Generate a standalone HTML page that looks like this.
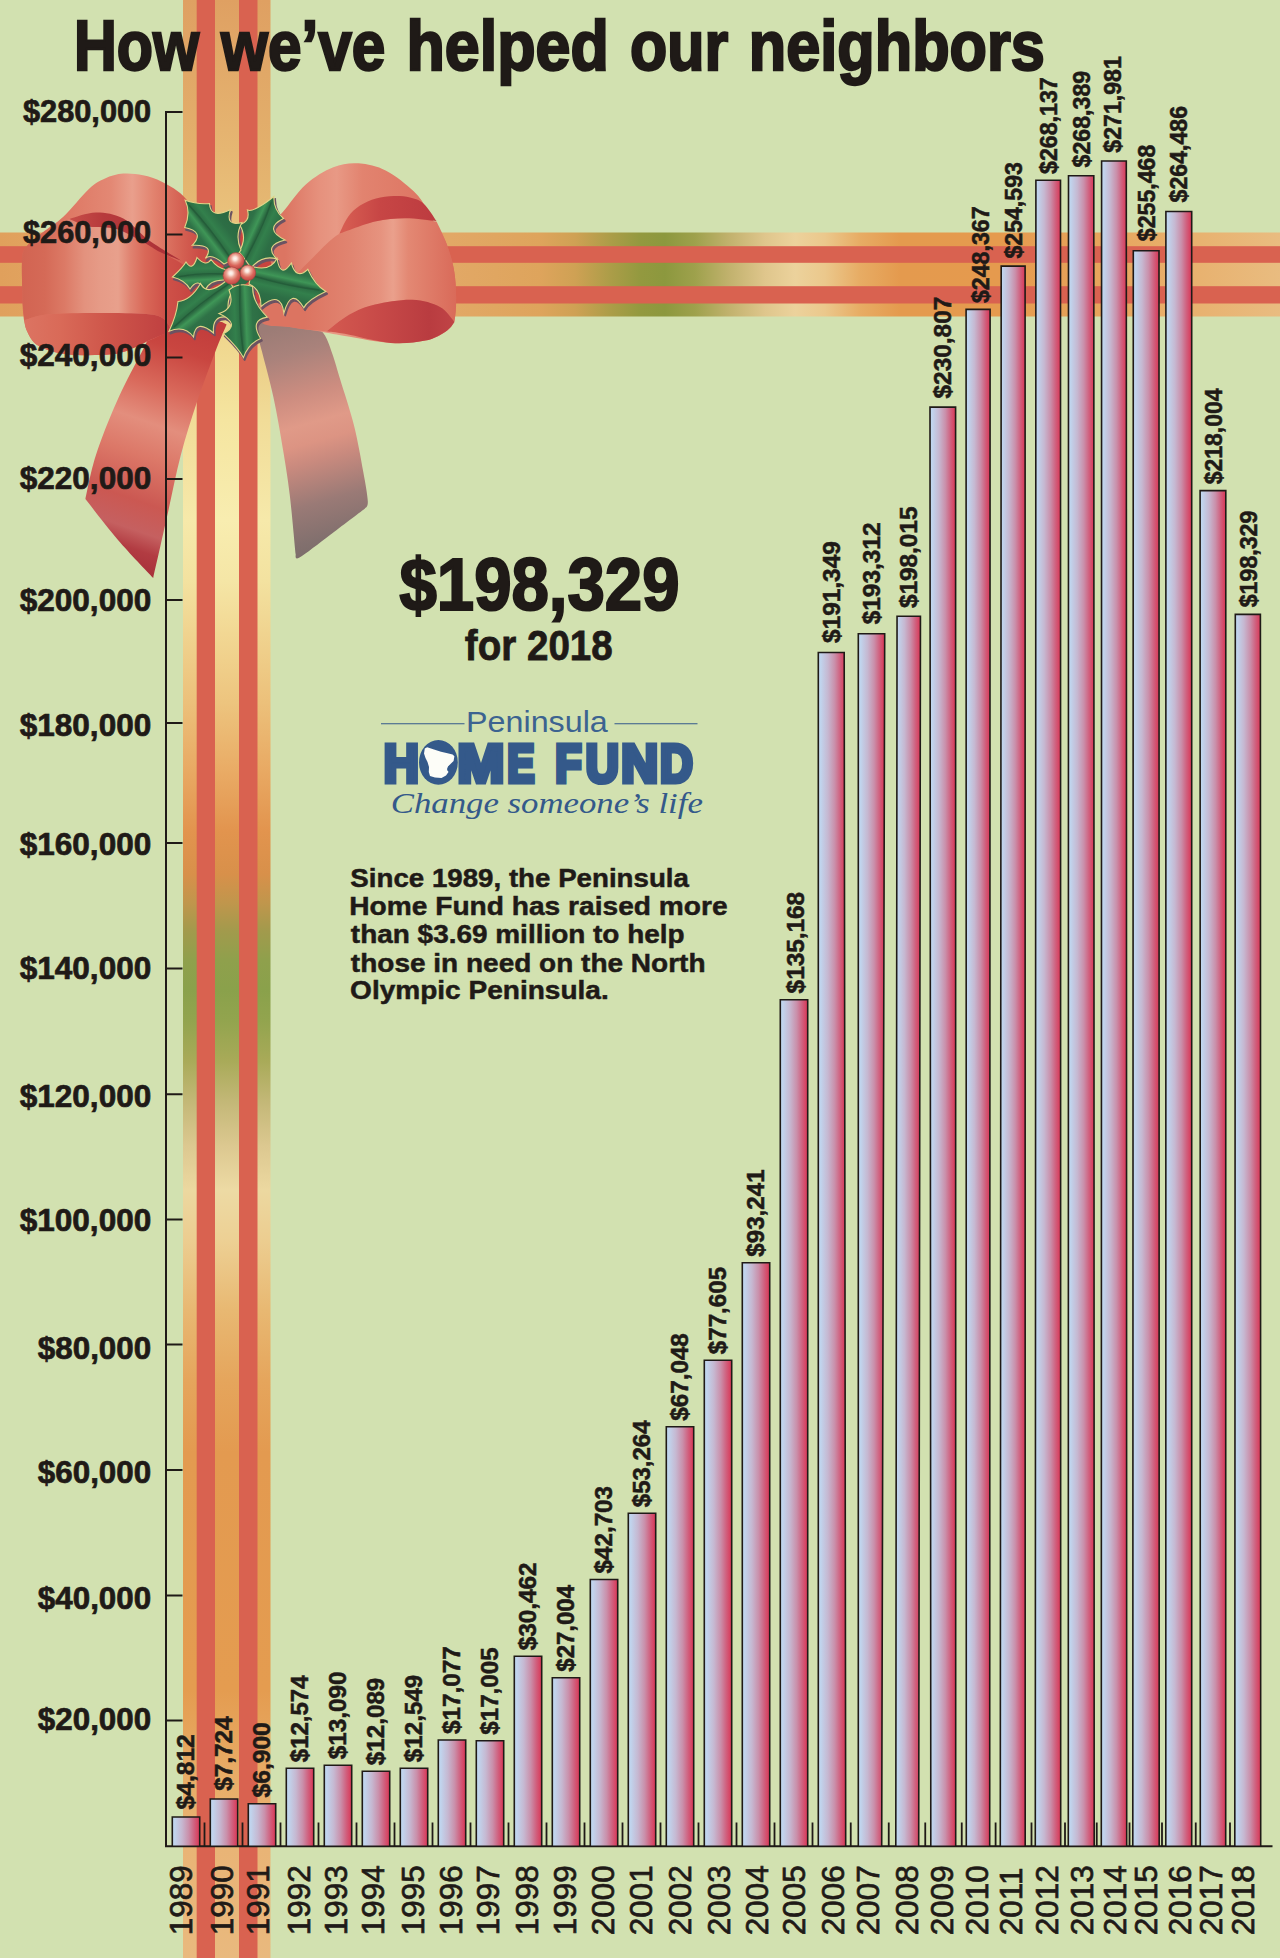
<!DOCTYPE html>
<html lang="en"><head><meta charset="utf-8"><title>How we’ve helped our neighbors</title>
<style>html,body{margin:0;padding:0;background:#fff}svg{display:block}text{font-family:"Liberation Sans",Arial,Helvetica,sans-serif}</style>
</head><body>
<svg width="1280" height="1960" viewBox="0 0 1280 1960">
<defs>
<linearGradient id="bar" x1="0" x2="1" y1="0" y2="0"><stop offset="0" stop-color="#bfd9f2"/><stop offset="0.1" stop-color="#c1d3ec"/><stop offset="0.35" stop-color="#c6b8d1"/><stop offset="0.6" stop-color="#ca8faa"/><stop offset="0.8" stop-color="#d0607e"/><stop offset="0.95" stop-color="#d8405f"/><stop offset="1" stop-color="#d63a58"/></linearGradient>
<linearGradient id="vg" gradientUnits="userSpaceOnUse" x1="0" y1="0" x2="0" y2="1958"><stop offset="0.0000" stop-color="#dfa062"/><stop offset="0.0766" stop-color="#e3b06c"/><stop offset="0.1685" stop-color="#e9c880"/><stop offset="0.2145" stop-color="#f1dc98"/><stop offset="0.2656" stop-color="#f6e9aa"/><stop offset="0.2962" stop-color="#f3e2a0"/><stop offset="0.3223" stop-color="#f0d490"/><stop offset="0.3590" stop-color="#ecc07a"/><stop offset="0.3953" stop-color="#e8a862"/><stop offset="0.4244" stop-color="#e2944e"/><stop offset="0.4464" stop-color="#d8904a"/><stop offset="0.4612" stop-color="#c0964c"/><stop offset="0.4755" stop-color="#a29a4c"/><stop offset="0.4903" stop-color="#8fa04c"/><stop offset="0.5056" stop-color="#8aa14b"/><stop offset="0.5209" stop-color="#92a44e"/><stop offset="0.5414" stop-color="#a8aa58"/><stop offset="0.5633" stop-color="#c4b878"/><stop offset="0.5853" stop-color="#dcc890"/><stop offset="0.6078" stop-color="#ecd8a0"/><stop offset="0.6333" stop-color="#eccd90"/><stop offset="0.6691" stop-color="#e8b872"/><stop offset="0.7053" stop-color="#e5a55c"/><stop offset="0.7421" stop-color="#e39a50"/><stop offset="0.8631" stop-color="#e49c50"/><stop offset="0.9091" stop-color="#e8ad68"/><stop offset="0.9448" stop-color="#e9b476"/><stop offset="1.0000" stop-color="#e9b97e"/></linearGradient>
<linearGradient id="vg2" gradientUnits="userSpaceOnUse" x1="0" y1="0" x2="0" y2="1958"><stop offset="0.0000" stop-color="#dfa062"/><stop offset="0.0766" stop-color="#e6b672"/><stop offset="0.1685" stop-color="#efd58c"/><stop offset="0.2145" stop-color="#f5e5a0"/><stop offset="0.2656" stop-color="#f8edb0"/><stop offset="0.2962" stop-color="#f5e6a6"/><stop offset="0.3223" stop-color="#f2d894"/><stop offset="0.3590" stop-color="#edc47e"/><stop offset="0.3953" stop-color="#e9aa64"/><stop offset="0.4244" stop-color="#e2944e"/><stop offset="0.4464" stop-color="#d8904a"/><stop offset="0.4612" stop-color="#c0964c"/><stop offset="0.4755" stop-color="#a29a4c"/><stop offset="0.4903" stop-color="#8fa04c"/><stop offset="0.5056" stop-color="#8aa14b"/><stop offset="0.5209" stop-color="#92a44e"/><stop offset="0.5414" stop-color="#a8aa58"/><stop offset="0.5633" stop-color="#c4b878"/><stop offset="0.5853" stop-color="#dcc890"/><stop offset="0.6078" stop-color="#eddaa4"/><stop offset="0.6333" stop-color="#edd094"/><stop offset="0.6691" stop-color="#e8b872"/><stop offset="0.7053" stop-color="#e5a55c"/><stop offset="0.7421" stop-color="#e39a50"/><stop offset="0.8631" stop-color="#e49c50"/><stop offset="0.9091" stop-color="#e8ad68"/><stop offset="0.9448" stop-color="#e9b476"/><stop offset="1.0000" stop-color="#e9b97e"/></linearGradient>
<linearGradient id="hg" gradientUnits="userSpaceOnUse" x1="0" y1="0" x2="1280" y2="0"><stop offset="0.0000" stop-color="#e0a05c"/><stop offset="0.0781" stop-color="#e3a864"/><stop offset="0.3516" stop-color="#e2a866"/><stop offset="0.4219" stop-color="#dea45c"/><stop offset="0.4492" stop-color="#cfa154"/><stop offset="0.4766" stop-color="#ac9d48"/><stop offset="0.5000" stop-color="#93993f"/><stop offset="0.5195" stop-color="#8c983e"/><stop offset="0.5430" stop-color="#9ea14c"/><stop offset="0.5703" stop-color="#c2b26e"/><stop offset="0.5977" stop-color="#dfc68c"/><stop offset="0.6211" stop-color="#ecd29c"/><stop offset="0.6445" stop-color="#ebc88c"/><stop offset="0.6719" stop-color="#e7ac64"/><stop offset="0.7031" stop-color="#e49a4e"/><stop offset="0.7812" stop-color="#e59a4e"/><stop offset="0.8594" stop-color="#e7a55c"/><stop offset="0.9375" stop-color="#e8b270"/><stop offset="1.0000" stop-color="#e9bc80"/></linearGradient>
<linearGradient id="ll" gradientUnits="userSpaceOnUse" x1="22" y1="0" x2="200" y2="0"><stop offset="0" stop-color="#d26452"/><stop offset="0.13" stop-color="#d56a57"/><stop offset="0.24" stop-color="#dc7a66"/><stop offset="0.35" stop-color="#e3927e"/><stop offset="0.44" stop-color="#e69b87"/><stop offset="0.54" stop-color="#e8a08c"/><stop offset="0.61" stop-color="#e08270"/><stop offset="0.69" stop-color="#d96858"/><stop offset="0.8" stop-color="#cf5249"/><stop offset="1" stop-color="#c4423f"/></linearGradient>
<linearGradient id="llb" gradientUnits="userSpaceOnUse" x1="22" y1="0" x2="200" y2="0"><stop offset="0" stop-color="#d96a58"/><stop offset="0.25" stop-color="#de7864"/><stop offset="0.5" stop-color="#e38874"/><stop offset="0.62" stop-color="#e99f8c"/><stop offset="0.74" stop-color="#e2826e"/><stop offset="0.9" stop-color="#d46052"/><stop offset="1" stop-color="#cb4c45"/></linearGradient>
<linearGradient id="llc" gradientUnits="userSpaceOnUse" x1="65" y1="0" x2="160" y2="0"><stop offset="0" stop-color="#c9504a"/><stop offset="0.4" stop-color="#b73a3c"/><stop offset="1" stop-color="#ad3238"/></linearGradient>
<linearGradient id="llu" gradientUnits="userSpaceOnUse" x1="24" y1="0" x2="170" y2="0"><stop offset="0" stop-color="#dc7462"/><stop offset="0.25" stop-color="#d96a58"/><stop offset="0.55" stop-color="#cf574b"/><stop offset="1" stop-color="#bf3f40"/></linearGradient>
<linearGradient id="lt" gradientUnits="userSpaceOnUse" x1="215" y1="330" x2="130" y2="575"><stop offset="0" stop-color="#c23d3c"/><stop offset="0.12" stop-color="#c94640"/><stop offset="0.28" stop-color="#d9695b"/><stop offset="0.42" stop-color="#e38e7d"/><stop offset="0.55" stop-color="#dc7868"/><stop offset="0.72" stop-color="#cb5852"/><stop offset="0.83" stop-color="#c56060"/><stop offset="0.9" stop-color="#b23c42"/><stop offset="1" stop-color="#a52e38"/></linearGradient>
<linearGradient id="rl" gradientUnits="userSpaceOnUse" x1="285" y1="0" x2="457" y2="0"><stop offset="0" stop-color="#dc7562"/><stop offset="0.2" stop-color="#e6917d"/><stop offset="0.3" stop-color="#e89985"/><stop offset="0.45" stop-color="#e2836f"/><stop offset="0.75" stop-color="#de7865"/><stop offset="1" stop-color="#d96c5a"/></linearGradient>
<linearGradient id="rlf" gradientUnits="userSpaceOnUse" x1="305" y1="0" x2="457" y2="0"><stop offset="0" stop-color="#dc7461"/><stop offset="0.3" stop-color="#e18470"/><stop offset="0.5" stop-color="#e6937f"/><stop offset="0.58" stop-color="#eaa08c"/><stop offset="0.68" stop-color="#e38873"/><stop offset="1" stop-color="#d96a59"/></linearGradient>
<linearGradient id="rlc" gradientUnits="userSpaceOnUse" x1="345" y1="0" x2="432" y2="0"><stop offset="0" stop-color="#d65c51"/><stop offset="0.4" stop-color="#c74645"/><stop offset="1" stop-color="#bd3c40"/></linearGradient>
<linearGradient id="rlu" gradientUnits="userSpaceOnUse" x1="326" y1="0" x2="455" y2="0"><stop offset="0" stop-color="#d45a50"/><stop offset="0.4" stop-color="#c84a48"/><stop offset="0.8" stop-color="#b93c40"/><stop offset="1" stop-color="#c04446"/></linearGradient>
<linearGradient id="rt" gradientUnits="userSpaceOnUse" x1="270" y1="330" x2="335" y2="560"><stop offset="0" stop-color="#9c7c76"/><stop offset="0.12" stop-color="#a9827b"/><stop offset="0.3" stop-color="#cd8d80"/><stop offset="0.42" stop-color="#e09a88"/><stop offset="0.5" stop-color="#dc9483"/><stop offset="0.58" stop-color="#c98a7e"/><stop offset="0.75" stop-color="#9a7a76"/><stop offset="0.9" stop-color="#82706e"/><stop offset="1" stop-color="#786a68"/></linearGradient>
<radialGradient id="berry" cx="0.45" cy="0.36" r="0.72"><stop offset="0" stop-color="#fffaf6"/><stop offset="0.16" stop-color="#fbe3da"/><stop offset="0.34" stop-color="#eba595"/><stop offset="0.6" stop-color="#d9655a"/><stop offset="1" stop-color="#bb3e3e"/></radialGradient>
<radialGradient id="leaf" gradientUnits="userSpaceOnUse" cx="240" cy="272" r="70"><stop offset="0" stop-color="#2c6a40"/><stop offset="0.35" stop-color="#3a9254"/><stop offset="0.6" stop-color="#2f7a48"/><stop offset="1" stop-color="#2c6e42"/></radialGradient>
<linearGradient id="lfF" gradientUnits="userSpaceOnUse" x1="201.0" y1="297.5" x2="198.5" y2="253.5"><stop offset="0" stop-color="#2c6b43"/><stop offset="0.25" stop-color="#2f7247"/><stop offset="0.4" stop-color="#3f9657"/><stop offset="0.5" stop-color="#2b6941"/><stop offset="0.65" stop-color="#33804c"/><stop offset="0.85" stop-color="#2d6e45"/><stop offset="1" stop-color="#2c6b43"/></linearGradient>
<linearGradient id="lfE" gradientUnits="userSpaceOnUse" x1="213.1" y1="324.2" x2="185.9" y2="289.6"><stop offset="0" stop-color="#2c6b43"/><stop offset="0.25" stop-color="#2f7247"/><stop offset="0.4" stop-color="#3f9657"/><stop offset="0.5" stop-color="#2b6941"/><stop offset="0.65" stop-color="#33804c"/><stop offset="0.85" stop-color="#2d6e45"/><stop offset="1" stop-color="#2c6b43"/></linearGradient>
<linearGradient id="lfD" gradientUnits="userSpaceOnUse" x1="263.7" y1="319.8" x2="219.7" y2="321.8"><stop offset="0" stop-color="#2c6b43"/><stop offset="0.25" stop-color="#2f7247"/><stop offset="0.4" stop-color="#3f9657"/><stop offset="0.5" stop-color="#2b6941"/><stop offset="0.65" stop-color="#33804c"/><stop offset="0.85" stop-color="#2d6e45"/><stop offset="1" stop-color="#2c6b43"/></linearGradient>
<linearGradient id="lfC" gradientUnits="userSpaceOnUse" x1="292.6" y1="261.8" x2="283.2" y2="304.7"><stop offset="0" stop-color="#2c6b43"/><stop offset="0.25" stop-color="#2f7247"/><stop offset="0.4" stop-color="#3f9657"/><stop offset="0.5" stop-color="#2b6941"/><stop offset="0.65" stop-color="#33804c"/><stop offset="0.85" stop-color="#2d6e45"/><stop offset="1" stop-color="#2c6b43"/></linearGradient>
<linearGradient id="lfB" gradientUnits="userSpaceOnUse" x1="238.9" y1="220.1" x2="279.0" y2="238.4"><stop offset="0" stop-color="#2c6b43"/><stop offset="0.25" stop-color="#2f7247"/><stop offset="0.4" stop-color="#3f9657"/><stop offset="0.5" stop-color="#2b6941"/><stop offset="0.65" stop-color="#33804c"/><stop offset="0.85" stop-color="#2d6e45"/><stop offset="1" stop-color="#2c6b43"/></linearGradient>
<linearGradient id="lfA" gradientUnits="userSpaceOnUse" x1="191.7" y1="244.6" x2="226.5" y2="217.7"><stop offset="0" stop-color="#2c6b43"/><stop offset="0.25" stop-color="#2f7247"/><stop offset="0.4" stop-color="#3f9657"/><stop offset="0.5" stop-color="#2b6941"/><stop offset="0.65" stop-color="#33804c"/><stop offset="0.85" stop-color="#2d6e45"/><stop offset="1" stop-color="#2c6b43"/></linearGradient>
</defs>
<rect x="0" y="0" width="1280" height="1958" fill="#d2e1b0"/>
<g id="hribbon">
<rect x="0" y="232.5" width="1280" height="84" fill="url(#hg)"/>
<rect x="0" y="246.2" width="1280" height="16.6" fill="#d96250"/>
<rect x="0" y="286.2" width="1280" height="17.3" fill="#d96250"/>
</g>
<g id="vribbon">
<rect x="183" y="0" width="87.5" height="1958" fill="url(#vg)"/>
<rect x="215" y="0" width="24" height="1958" fill="url(#vg2)"/>
<rect x="196.7" y="0" width="18.3" height="1958" fill="#d96250"/>
<rect x="239" y="0" width="18.5" height="1958" fill="#d96250"/>
</g>
<g id="bow">
<path d="M222.0 322.0C216.7 322.0 200.7 321.2 190.0 322.0C179.3 322.8 166.4 321.2 158.0 327.0C149.6 332.8 146.3 344.0 139.4 356.6C132.5 369.2 123.7 386.0 116.4 402.5C109.1 419.0 101.0 439.3 95.8 455.4C90.6 471.5 87.1 491.7 85.4 499.0L85.4 499.0C90.8 505.8 106.7 526.8 118.0 540.0C129.3 553.2 147.3 571.7 153.2 578.0L153.2 578.0C155.5 567.9 162.3 537.7 166.9 517.3C171.5 496.9 175.7 474.5 180.7 455.4C185.7 436.3 191.1 419.7 196.8 402.5C202.6 385.3 210.2 365.0 215.2 352.0C220.2 339.0 224.7 329.1 226.6 324.5Z" fill="url(#lt)"/>
<path d="M258.5 320.5C262.9 320.6 277.6 320.4 285.0 320.8C292.4 321.2 297.7 321.7 303.0 323.0C308.3 324.3 313.3 326.4 317.0 328.5C320.7 330.6 322.3 330.9 325.0 335.5C327.7 340.1 330.5 348.4 333.0 355.8C335.5 363.2 336.7 368.0 340.2 379.6C343.7 391.2 350.2 410.2 354.0 425.5C357.8 440.8 360.9 458.8 363.2 471.4C365.5 484.0 367.5 495.1 367.8 501.3C368.1 507.5 365.5 507.3 365.0 508.5L365.0 508.5C359.2 512.9 340.9 526.8 330.0 535.0C319.1 543.2 305.2 554.3 299.5 557.5C293.8 560.7 296.2 554.7 295.6 554.1L295.6 554.1C294.6 544.1 291.8 512.0 289.7 494.4C287.6 476.8 285.5 464.6 282.8 448.5C280.1 432.4 277.1 414.1 273.6 398.0C270.2 381.9 264.8 362.7 262.1 352.0C259.4 341.3 258.2 338.9 257.6 333.7C257.0 328.4 258.4 322.7 258.5 320.5Z" fill="url(#rt)"/>
<path d="M186.0 199.0C178.4 190.2 169.5 186.0 162.3 182.1C155.1 178.2 149.5 176.7 143.0 175.3C136.5 173.9 129.6 173.1 123.3 173.6C117.0 174.1 110.7 175.9 105.0 178.5C99.3 181.1 95.8 182.7 88.9 189.0C82.0 195.3 71.4 209.3 63.6 216.6C55.8 223.9 48.4 227.7 42.0 233.0C35.6 238.3 28.3 243.7 25.0 248.5C21.7 253.3 22.4 255.1 22.0 262.0C21.6 268.9 22.1 281.3 22.3 290.0C22.5 298.7 22.4 307.2 23.2 314.0C24.0 320.8 24.5 325.8 27.0 331.0C29.5 336.2 31.5 341.6 38.0 345.5C44.5 349.4 53.6 352.7 65.9 354.2C78.2 355.7 100.3 355.4 111.8 354.3C123.3 353.2 128.4 349.8 134.8 347.4C141.2 345.0 143.8 342.7 150.0 340.0C156.2 337.3 162.8 334.0 172.0 331.0C181.2 328.0 196.7 330.5 205.0 322.0C213.3 313.5 221.5 294.5 222.0 280.0C222.5 265.5 214.0 248.5 208.0 235.0C202.0 221.5 193.6 207.8 186.0 199.0Z" fill="url(#llb)"/>
<path d="M22.3 290.0C22.2 285.3 21.6 268.9 22.0 262.0C22.4 255.1 21.7 253.3 25.0 248.5C28.3 243.7 34.6 237.9 42.0 233.0C49.4 228.1 61.6 220.1 69.4 218.9C77.2 217.7 81.1 224.3 88.9 225.8C96.7 227.3 107.2 225.4 116.4 228.1C125.6 230.8 136.7 238.0 144.0 241.8C151.3 245.6 153.0 247.0 160.0 251.0C167.0 255.0 181.7 263.5 186.0 266.0L186.0 266.0C188.3 270.0 199.3 281.3 200.0 290.0C200.7 298.7 194.7 311.2 190.0 318.0C185.3 324.8 175.0 328.8 172.0 331.0L172.0 331.0C169.6 328.5 167.8 318.8 157.8 315.8C147.8 312.8 129.8 313.3 111.8 313.0C93.8 312.7 64.3 313.0 49.8 314.2C35.3 315.4 28.8 319.0 24.6 320.0L24.6 320.0C24.3 317.5 23.2 310.0 22.8 305.0C22.4 300.0 22.4 292.5 22.3 290.0Z" fill="url(#ll)"/>
<path d="M69.4 218.9C73.8 217.8 86.8 212.6 95.8 212.5C104.8 212.4 114.5 213.9 123.3 218.5C132.1 223.1 139.0 233.0 148.6 240.0C158.2 247.0 175.6 257.1 181.0 260.5L181.0 260.5C177.5 259.1 166.2 255.0 160.0 252.0C153.8 249.0 151.3 246.3 144.0 242.5C136.7 238.7 125.6 231.7 116.4 229.0C107.2 226.3 96.7 228.2 88.9 226.5C81.1 224.8 72.7 220.2 69.4 218.9Z" fill="url(#llc)"/>
<path d="M24.6 320.0C28.8 319.0 35.3 315.4 49.8 314.2C64.3 313.0 93.8 312.7 111.8 313.0C129.8 313.3 147.8 312.8 157.8 315.8C167.8 318.8 169.6 328.5 172.0 331.0L172.0 331.0C168.3 332.5 156.2 337.3 150.0 340.0C143.8 342.7 141.2 345.0 134.8 347.4C128.4 349.8 123.3 353.2 111.8 354.3C100.3 355.4 78.2 355.7 65.9 354.2C53.6 352.7 44.5 349.4 38.0 345.5C31.5 341.6 29.2 335.2 27.0 331.0C24.8 326.8 25.0 321.8 24.6 320.0Z" fill="url(#llu)"/>
<path d="M270.0 225.0C274.6 216.2 276.8 218.8 282.8 212.0C288.8 205.2 297.4 191.9 305.8 184.4C314.2 176.9 324.5 170.7 333.3 167.2C342.1 163.7 349.8 162.7 358.6 163.3C367.4 163.9 376.9 166.0 386.1 170.7C395.3 175.4 406.8 184.8 413.7 191.3C420.6 197.8 423.9 204.3 427.4 209.7C430.9 215.1 431.7 218.2 434.8 223.5C437.9 228.8 442.6 234.2 445.8 241.8C449.0 249.5 452.2 260.2 453.9 269.4C455.6 278.6 456.0 288.5 456.1 296.9C456.2 305.3 456.2 314.1 454.5 319.9C452.8 325.6 450.7 327.9 445.8 331.4C440.9 334.8 434.4 338.7 425.2 340.6C416.0 342.5 404.1 343.7 390.7 342.9C377.3 342.1 357.1 338.0 344.8 336.0C332.6 334.0 326.4 332.5 317.2 331.0C308.0 329.5 298.9 328.3 289.7 327.0C280.5 325.7 268.6 327.5 262.0 323.0C255.4 318.5 251.2 309.7 250.0 300.0C248.8 290.3 251.7 277.5 255.0 265.0C258.3 252.5 265.4 233.8 270.0 225.0Z" fill="url(#rl)"/>
<path d="M296.0 275.0C298.0 272.9 300.8 269.4 308.0 262.5C315.2 255.6 328.2 240.5 339.4 233.7C350.6 226.9 364.1 224.1 375.0 221.5C385.9 218.9 394.8 218.2 405.0 218.2C415.2 218.2 431.2 220.9 436.5 221.5L436.5 221.5C438.1 224.9 442.9 233.8 445.8 241.8C448.7 249.8 452.2 260.2 453.9 269.4C455.6 278.6 456.0 288.1 456.1 296.9C456.2 305.7 454.8 317.8 454.5 322.0L454.5 322.0C452.1 319.5 447.0 310.7 440.0 307.0C433.0 303.3 423.3 300.2 412.5 299.8C401.7 299.4 385.5 302.1 375.0 304.5C364.5 306.9 357.5 310.0 349.4 314.5C341.3 319.0 330.2 328.6 326.4 331.4L326.4 331.4C323.0 331.1 312.1 330.2 306.0 329.5C299.9 328.8 296.0 328.2 289.7 327.0C283.4 325.8 271.3 326.5 268.0 322.0C264.7 317.5 265.3 307.8 270.0 300.0C274.7 292.2 291.7 279.2 296.0 275.0Z" fill="url(#rlf)"/>
<path d="M339.4 233.7C340.8 230.9 344.6 221.7 348.0 217.0C351.4 212.3 355.3 208.7 360.0 205.6C364.7 202.5 370.4 200.1 376.0 198.5C381.6 196.9 388.0 196.2 393.7 196.0C399.4 195.8 405.0 196.2 410.0 197.5C415.0 198.8 419.3 199.8 423.7 203.7C428.1 207.6 434.4 218.1 436.5 221.0L436.5 221.0C431.2 220.5 415.2 218.1 405.0 218.2C394.8 218.3 385.9 218.9 375.0 221.5C364.1 224.1 345.3 231.7 339.4 233.7Z" fill="url(#rlc)"/>
<path d="M326.4 331.4C330.2 328.6 341.3 319.0 349.4 314.5C357.5 310.0 364.5 306.9 375.0 304.5C385.5 302.1 401.7 299.4 412.5 299.8C423.3 300.2 433.0 303.3 440.0 307.0C447.0 310.7 452.1 319.5 454.5 322.0L454.5 322.0C453.1 323.6 450.7 328.3 445.8 331.4C440.9 334.5 434.4 338.7 425.2 340.6C416.0 342.5 404.1 344.0 390.7 342.9C377.3 341.8 355.5 335.6 344.8 333.7C334.1 331.8 329.5 331.8 326.4 331.4Z" fill="url(#rlu)"/>
<ellipse cx="238" cy="272" rx="34" ry="40" fill="#c8443f"/>
<circle cx="238" cy="271" r="15" fill="#2d6e45"/>
<g fill="#6b5362" stroke="#6b5362" stroke-width="1.8" stroke-linejoin="round"><path d="M172.5 277.0Q182.8 267.5 186.0 262.0Q192.5 272.2 197.0 257.5Q206.0 267.5 211.0 259.5Q217.0 268.2 227.0 270.0Q226.5 275.0 224.0 280.0Q209.5 279.8 205.0 290.5Q198.5 276.2 190.0 289.0Q184.8 280.0 172.5 277.0Z" transform="translate(1.3 2.4)"/><path d="M226.0 281.0Q206.8 296.8 200.5 283.5Q190.8 300.5 178.0 301.5Q176.5 315.6 169.0 331.2Q184.8 324.9 193.5 337.0Q195.5 318.0 213.5 333.0Q211.8 313.8 229.0 317.5Q225.5 298.2 234.0 290.0Q232.0 282.5 226.0 281.0Z" transform="translate(1.3 2.4)"/><path d="M252.7 286.6Q252.0 302.1 267.3 317.1Q249.2 319.9 260.6 338.4Q248.0 344.0 243.4 357.6Q238.6 348.4 223.4 333.7Q241.6 324.0 219.0 313.5Q236.0 308.2 229.0 290.0Q239.2 281.7 252.7 286.6Z" transform="translate(1.3 2.4)"/><path d="M254.0 267.0Q270.5 271.2 277.0 258.5Q280.5 279.2 291.3 263.0Q296.1 280.5 307.8 269.3Q315.2 285.6 325.8 291.5Q307.4 300.0 303.8 307.8Q291.1 286.5 283.9 313.1Q280.8 289.8 261.0 306.5Q261.0 288.8 249.0 284.0Q250.5 274.5 254.0 267.0Z" transform="translate(1.3 2.4)"/><path d="M273.9 196.5Q273.3 209.5 283.5 218.5Q262.8 228.8 285.0 240.0Q263.0 245.5 277.0 259.0Q262.0 254.5 251.0 268.0Q243.0 256.0 239.0 252.0Q247.8 237.8 239.5 224.5Q250.5 221.8 247.5 210.0Q253.3 212.8 273.9 196.5Z" transform="translate(1.3 2.4)"/><path d="M185.2 200.3Q196.7 204.5 209.5 203.5Q210.4 219.5 230.5 209.5Q224.8 227.0 242.0 222.5Q234.5 235.8 241.0 250.0Q235.5 259.0 224.0 264.0Q211.3 252.8 205.3 258.4Q215.6 244.3 192.2 245.3Q205.4 231.8 184.7 227.5Q191.1 212.9 185.2 200.3Z" transform="translate(1.3 2.4)"/></g>
<g stroke="#e2d588" stroke-width="1.1" stroke-linejoin="miter" stroke-miterlimit="6"><path d="M172.5 277.0Q182.8 267.5 186.0 262.0Q192.5 272.2 197.0 257.5Q206.0 267.5 211.0 259.5Q217.0 268.2 227.0 270.0Q226.5 275.0 224.0 280.0Q209.5 279.8 205.0 290.5Q198.5 276.2 190.0 289.0Q184.8 280.0 172.5 277.0Z" fill="url(#lfF)"/><path d="M226.0 281.0Q206.8 296.8 200.5 283.5Q190.8 300.5 178.0 301.5Q176.5 315.6 169.0 331.2Q184.8 324.9 193.5 337.0Q195.5 318.0 213.5 333.0Q211.8 313.8 229.0 317.5Q225.5 298.2 234.0 290.0Q232.0 282.5 226.0 281.0Z" fill="url(#lfE)"/><path d="M252.7 286.6Q252.0 302.1 267.3 317.1Q249.2 319.9 260.6 338.4Q248.0 344.0 243.4 357.6Q238.6 348.4 223.4 333.7Q241.6 324.0 219.0 313.5Q236.0 308.2 229.0 290.0Q239.2 281.7 252.7 286.6Z" fill="url(#lfD)"/><path d="M254.0 267.0Q270.5 271.2 277.0 258.5Q280.5 279.2 291.3 263.0Q296.1 280.5 307.8 269.3Q315.2 285.6 325.8 291.5Q307.4 300.0 303.8 307.8Q291.1 286.5 283.9 313.1Q280.8 289.8 261.0 306.5Q261.0 288.8 249.0 284.0Q250.5 274.5 254.0 267.0Z" fill="url(#lfC)"/><path d="M273.9 196.5Q273.3 209.5 283.5 218.5Q262.8 228.8 285.0 240.0Q263.0 245.5 277.0 259.0Q262.0 254.5 251.0 268.0Q243.0 256.0 239.0 252.0Q247.8 237.8 239.5 224.5Q250.5 221.8 247.5 210.0Q253.3 212.8 273.9 196.5Z" fill="url(#lfB)"/><path d="M185.2 200.3Q196.7 204.5 209.5 203.5Q210.4 219.5 230.5 209.5Q224.8 227.0 242.0 222.5Q234.5 235.8 241.0 250.0Q235.5 259.0 224.0 264.0Q211.3 252.8 205.3 258.4Q215.6 244.3 192.2 245.3Q205.4 231.8 184.7 227.5Q191.1 212.9 185.2 200.3Z" fill="url(#lfA)"/></g>
<g fill="none" stroke="#235a38" stroke-width="1.4" stroke-linecap="round" opacity="0.8"><path d="M227.0 274.0Q199.6 272.5 179.5 276.6"/><path d="M230.0 283.0Q197.6 304.5 174.5 326.5"/><path d="M240.0 284.0Q238.7 320.9 243.1 350.6"/><path d="M250.0 275.0Q287.3 286.2 319.0 290.0"/><path d="M244.0 262.0Q261.7 230.5 271.0 202.9"/><path d="M233.0 262.0Q211.5 229.3 189.5 205.8"/></g>
<circle cx="235.9" cy="260.9" r="8.3" fill="url(#berry)" stroke="#a8403e" stroke-width="0.6"/>
<circle cx="247.9" cy="272.8" r="7.8" fill="url(#berry)" stroke="#a8403e" stroke-width="0.6"/>
<circle cx="231.7" cy="275.6" r="8.7" fill="url(#berry)" stroke="#a8403e" stroke-width="0.6"/>
</g>
<g id="axis" stroke="#1f1a17" stroke-width="2" fill="none">
<path d="M182.5 112H166V1846.25H1272.5"/>
<path d="M166 1720.5H182.5"/>
<path d="M166 1595.5H182.5"/>
<path d="M166 1470H182.5"/>
<path d="M166 1344.5H182.5"/>
<path d="M166 1219.5H182.5"/>
<path d="M166 1094.25H182.5"/>
<path d="M166 968.5H182.5"/>
<path d="M166 843H182.5"/>
<path d="M166 723H182.5"/>
<path d="M166 600H182.5"/>
<path d="M166 479H182.5"/>
<path d="M166 357.5H182.5"/>
<path d="M166 234.5H182.5"/>
</g>
<g id="xticks" stroke="#1f1a17" stroke-width="1.8">
<path d="M204.5 1822.5V1846.25"/>
<path d="M242.5 1822.5V1846.25"/>
<path d="M280.5 1822.5V1846.25"/>
<path d="M318.5 1822.5V1846.25"/>
<path d="M356.5 1822.5V1846.25"/>
<path d="M394.5 1822.5V1846.25"/>
<path d="M432.5 1822.5V1846.25"/>
<path d="M470.5 1822.5V1846.25"/>
<path d="M508.5 1822.5V1846.25"/>
<path d="M546.5 1822.5V1846.25"/>
<path d="M584.5 1822.5V1846.25"/>
<path d="M622.5 1822.5V1846.25"/>
<path d="M660.5 1822.5V1846.25"/>
<path d="M698.5 1822.5V1846.25"/>
<path d="M736.5 1822.5V1846.25"/>
<path d="M774.5 1822.5V1846.25"/>
<path d="M812.5 1822.5V1846.25"/>
<path d="M850.75 1822.5V1846.25"/>
<path d="M888.75 1822.5V1846.25"/>
<path d="M925.25 1822.5V1846.25"/>
<path d="M961.75 1822.5V1846.25"/>
<path d="M995.6 1822.5V1846.25"/>
<path d="M1031.5 1822.5V1846.25"/>
<path d="M1065 1822.5V1846.25"/>
<path d="M1096.75 1822.5V1846.25"/>
<path d="M1129.5 1822.5V1846.25"/>
<path d="M1162 1822.5V1846.25"/>
<path d="M1195.75 1822.5V1846.25"/>
<path d="M1230 1822.5V1846.25"/>
</g>
<g id="ylabels" font-weight="bold" font-size="30.6" fill="#1f1a17" stroke="#1f1a17" stroke-width="0.7">
<text x="37.89" y="1730.2" textLength="113.29" lengthAdjust="spacingAndGlyphs">$20,000</text>
<text x="37.89" y="1608.9" textLength="113.29" lengthAdjust="spacingAndGlyphs">$40,000</text>
<text x="37.89" y="1483.0" textLength="113.29" lengthAdjust="spacingAndGlyphs">$60,000</text>
<text x="37.89" y="1358.9" textLength="113.29" lengthAdjust="spacingAndGlyphs">$80,000</text>
<text x="19.79" y="1230.5" textLength="131.42" lengthAdjust="spacingAndGlyphs">$100,000</text>
<text x="19.79" y="1106.7" textLength="131.42" lengthAdjust="spacingAndGlyphs">$120,000</text>
<text x="19.79" y="979.0" textLength="131.42" lengthAdjust="spacingAndGlyphs">$140,000</text>
<text x="19.79" y="855.2" textLength="131.42" lengthAdjust="spacingAndGlyphs">$160,000</text>
<text x="19.79" y="736.3" textLength="131.42" lengthAdjust="spacingAndGlyphs">$180,000</text>
<text x="19.79" y="610.5" textLength="131.42" lengthAdjust="spacingAndGlyphs">$200,000</text>
<text x="19.79" y="489.3" textLength="131.42" lengthAdjust="spacingAndGlyphs">$220,000</text>
<text x="19.79" y="366.1" textLength="131.42" lengthAdjust="spacingAndGlyphs">$240,000</text>
<text x="23.00" y="243.3" textLength="128.18" lengthAdjust="spacingAndGlyphs">$260,000</text>
<text x="23.00" y="122.4" textLength="128.18" lengthAdjust="spacingAndGlyphs">$280,000</text>
</g>
<g id="bars" fill="url(#bar)" stroke="#1f1a17" stroke-width="1.6" stroke-linejoin="miter">
<path d="M172.3 1846.25L172.3 1817.05L199.7 1817.05L199.7 1846.25Z"/>
<path d="M210.3 1846.25L210.3 1799.05L237.7 1799.05L237.7 1846.25Z"/>
<path d="M248.3 1846.25L248.3 1803.8L275.7 1803.8L275.7 1846.25Z"/>
<path d="M286.3 1846.25L286.3 1768.3L313.7 1768.3L313.7 1846.25Z"/>
<path d="M324.3 1846.25L324.3 1765.3L351.7 1765.3L351.7 1846.25Z"/>
<path d="M362.3 1846.25L362.3 1771.3L389.7 1771.3L389.7 1846.25Z"/>
<path d="M400.3 1846.25L400.3 1768.3L427.7 1768.3L427.7 1846.25Z"/>
<path d="M438.3 1846.25L438.3 1740.05L465.7 1740.05L465.7 1846.25Z"/>
<path d="M476.3 1846.25L476.3 1740.8L503.7 1740.8L503.7 1846.25Z"/>
<path d="M514.3 1846.25L514.3 1656.3L541.7 1656.3L541.7 1846.25Z"/>
<path d="M552.3 1846.25L552.3 1677.8L579.7 1677.8L579.7 1846.25Z"/>
<path d="M590.3 1846.25L590.3 1579.55L617.7 1579.55L617.7 1846.25Z"/>
<path d="M628.3 1846.25L628.3 1513.3L655.7 1513.3L655.7 1846.25Z"/>
<path d="M666.3 1846.25L666.3 1426.8L693.7 1426.8L693.7 1846.25Z"/>
<path d="M704.3 1846.25L704.3 1360.3L731.7 1360.3L731.7 1846.25Z"/>
<path d="M742.3 1846.25L742.3 1262.8L769.7 1262.8L769.7 1846.25Z"/>
<path d="M780.3 1846.25L780.3 999.8L807.7 999.8L807.7 1846.25Z"/>
<path d="M818.3 1846.25L818.3 652.55L844.2 652.55L845.7 1846.25Z"/>
<path d="M858.3 1846.25L858.3 633.8L884.7 633.8L881.7 1846.25Z"/>
<path d="M895.8 1846.25L897.05 616.3L920.45 616.3L918.7 1846.25Z"/>
<path d="M930.8 1846.25L930.0 407.1L955.6 407.1L955.7 1846.25Z"/>
<path d="M966.3 1846.25L966.0999999999999 309.40000000000003L990.1 309.40000000000003L989.7 1846.25Z"/>
<path d="M1000.3 1846.25L1001.1999999999999 266.1L1025.1000000000001 266.1L1025.2 1846.25Z"/>
<path d="M1035.3 1846.25L1035.8999999999999 180.3L1060.5 180.3L1060.7 1846.25Z"/>
<path d="M1068.3 1846.25L1068.5 175.8L1093.8 175.8L1094.2 1846.25Z"/>
<path d="M1101.3 1846.25L1101.6 161.0L1126.3 161.0L1126.7 1846.25Z"/>
<path d="M1132.8 1846.25L1133.3 250.70000000000002L1159.0 250.70000000000002L1159.2 1846.25Z"/>
<path d="M1165.8 1846.25L1165.8999999999999 211.5L1191.7 211.5L1191.7 1846.25Z"/>
<path d="M1200.3 1846.25L1200.1 490.6L1225.8 490.6L1225.7 1846.25Z"/>
<path d="M1234.8 1846.25L1235.3 614.4L1260.4 614.4L1260.7 1846.25Z"/>
</g>
<g id="vlabels" font-weight="bold" font-size="23.8" fill="#1f1a17" stroke="#1f1a17" stroke-width="0.55">
<text transform="translate(194.4 1809.5) rotate(-90)" x="-0.01" textLength="75.33" lengthAdjust="spacingAndGlyphs">$4,812</text>
<text transform="translate(232.4 1790.8) rotate(-90)" x="-0.01" textLength="74.29" lengthAdjust="spacingAndGlyphs">$7,724</text>
<text transform="translate(270.4 1797.5) rotate(-90)" x="-0.01" textLength="75.33" lengthAdjust="spacingAndGlyphs">$6,900</text>
<text transform="translate(308.4 1762.2) rotate(-90)" x="-0.00" textLength="86.78" lengthAdjust="spacingAndGlyphs">$12,574</text>
<text transform="translate(346.4 1759.2) rotate(-90)" x="-0.01" textLength="87.80" lengthAdjust="spacingAndGlyphs">$13,090</text>
<text transform="translate(384.4 1765.2) rotate(-90)" x="-0.00" textLength="87.54" lengthAdjust="spacingAndGlyphs">$12,089</text>
<text transform="translate(422.4 1762.2) rotate(-90)" x="-0.00" textLength="87.54" lengthAdjust="spacingAndGlyphs">$12,549</text>
<text transform="translate(460.4 1734.0) rotate(-90)" x="-0.01" textLength="87.80" lengthAdjust="spacingAndGlyphs">$17,077</text>
<text transform="translate(498.4 1734.7) rotate(-90)" x="-0.00" textLength="87.29" lengthAdjust="spacingAndGlyphs">$17,005</text>
<text transform="translate(536.4 1650.2) rotate(-90)" x="-0.01" textLength="87.80" lengthAdjust="spacingAndGlyphs">$30,462</text>
<text transform="translate(574.4 1671.7) rotate(-90)" x="-0.00" textLength="86.78" lengthAdjust="spacingAndGlyphs">$27,004</text>
<text transform="translate(612.4 1573.5) rotate(-90)" x="-0.00" textLength="87.54" lengthAdjust="spacingAndGlyphs">$42,703</text>
<text transform="translate(650.4 1507.2) rotate(-90)" x="-0.00" textLength="86.78" lengthAdjust="spacingAndGlyphs">$53,264</text>
<text transform="translate(688.4 1420.7) rotate(-90)" x="-0.00" textLength="87.54" lengthAdjust="spacingAndGlyphs">$67,048</text>
<text transform="translate(726.4 1354.2) rotate(-90)" x="-0.00" textLength="87.29" lengthAdjust="spacingAndGlyphs">$77,605</text>
<text transform="translate(764.4 1256.7) rotate(-90)" x="-0.00" textLength="87.29" lengthAdjust="spacingAndGlyphs">$93,241</text>
<text transform="translate(803.9 993.4) rotate(-90)" x="-0.01" textLength="101.53" lengthAdjust="spacingAndGlyphs">$135,168</text>
<text transform="translate(839.6 643.0) rotate(-90)" x="-0.01" textLength="101.79" lengthAdjust="spacingAndGlyphs">$191,349</text>
<text transform="translate(879.9 624.3) rotate(-90)" x="-0.01" textLength="101.79" lengthAdjust="spacingAndGlyphs">$193,312</text>
<text transform="translate(917.1 608.1) rotate(-90)" x="-0.01" textLength="101.53" lengthAdjust="spacingAndGlyphs">$198,015</text>
<text transform="translate(951.2 398.5) rotate(-90)" x="-0.01" textLength="101.79" lengthAdjust="spacingAndGlyphs">$230,807</text>
<text transform="translate(988.5 303.1) rotate(-90)" x="0.01" textLength="96.72" lengthAdjust="spacingAndGlyphs">$248,367</text>
<text transform="translate(1021.6 258.6) rotate(-90)" x="0.01" textLength="96.48" lengthAdjust="spacingAndGlyphs">$254,593</text>
<text transform="translate(1056.6 174.0) rotate(-90)" x="0.01" textLength="96.72" lengthAdjust="spacingAndGlyphs">$268,137</text>
<text transform="translate(1089.6 167.5) rotate(-90)" x="0.01" textLength="96.72" lengthAdjust="spacingAndGlyphs">$268,389</text>
<text transform="translate(1120.8 152.7) rotate(-90)" x="0.01" textLength="96.48" lengthAdjust="spacingAndGlyphs">$271,981</text>
<text transform="translate(1154.6 241.2) rotate(-90)" x="0.01" textLength="96.48" lengthAdjust="spacingAndGlyphs">$255,468</text>
<text transform="translate(1187.2 202.4) rotate(-90)" x="0.01" textLength="96.48" lengthAdjust="spacingAndGlyphs">$264,486</text>
<text transform="translate(1222.3 484.2) rotate(-90)" x="0.01" textLength="95.75" lengthAdjust="spacingAndGlyphs">$218,004</text>
<text transform="translate(1257.0 607.3) rotate(-90)" x="0.01" textLength="96.72" lengthAdjust="spacingAndGlyphs">$198,329</text>
</g>
<g id="years" font-size="31.8" fill="#1f1a17" stroke="#1f1a17" stroke-width="0.7">
<text transform="translate(191.9 1935.2) rotate(-90)" textLength="70.01" lengthAdjust="spacingAndGlyphs">1989</text>
<text transform="translate(232.5 1935.2) rotate(-90)" textLength="70.01" lengthAdjust="spacingAndGlyphs">1990</text>
<text transform="translate(268.7 1935.2) rotate(-90)" textLength="70.01" lengthAdjust="spacingAndGlyphs">1991</text>
<text transform="translate(310.0 1935.2) rotate(-90)" textLength="70.01" lengthAdjust="spacingAndGlyphs">1992</text>
<text transform="translate(347.4 1935.2) rotate(-90)" textLength="70.01" lengthAdjust="spacingAndGlyphs">1993</text>
<text transform="translate(383.8 1935.2) rotate(-90)" textLength="70.01" lengthAdjust="spacingAndGlyphs">1994</text>
<text transform="translate(423.8 1935.2) rotate(-90)" textLength="70.01" lengthAdjust="spacingAndGlyphs">1995</text>
<text transform="translate(461.6 1935.2) rotate(-90)" textLength="70.01" lengthAdjust="spacingAndGlyphs">1996</text>
<text transform="translate(499.3 1935.2) rotate(-90)" textLength="70.01" lengthAdjust="spacingAndGlyphs">1997</text>
<text transform="translate(537.7 1935.2) rotate(-90)" textLength="70.01" lengthAdjust="spacingAndGlyphs">1998</text>
<text transform="translate(575.9 1935.2) rotate(-90)" textLength="70.01" lengthAdjust="spacingAndGlyphs">1999</text>
<text transform="translate(613.5 1935.2) rotate(-90)" textLength="70.01" lengthAdjust="spacingAndGlyphs">2000</text>
<text transform="translate(651.7 1935.2) rotate(-90)" textLength="70.01" lengthAdjust="spacingAndGlyphs">2001</text>
<text transform="translate(691.0 1935.2) rotate(-90)" textLength="70.01" lengthAdjust="spacingAndGlyphs">2002</text>
<text transform="translate(730.2 1935.2) rotate(-90)" textLength="70.01" lengthAdjust="spacingAndGlyphs">2003</text>
<text transform="translate(767.7 1935.2) rotate(-90)" textLength="70.01" lengthAdjust="spacingAndGlyphs">2004</text>
<text transform="translate(804.7 1935.2) rotate(-90)" textLength="70.01" lengthAdjust="spacingAndGlyphs">2005</text>
<text transform="translate(843.5 1935.2) rotate(-90)" textLength="70.01" lengthAdjust="spacingAndGlyphs">2006</text>
<text transform="translate(879.2 1935.2) rotate(-90)" textLength="70.01" lengthAdjust="spacingAndGlyphs">2007</text>
<text transform="translate(918.1 1935.2) rotate(-90)" textLength="70.01" lengthAdjust="spacingAndGlyphs">2008</text>
<text transform="translate(953.2 1935.2) rotate(-90)" textLength="70.01" lengthAdjust="spacingAndGlyphs">2009</text>
<text transform="translate(988.3 1935.2) rotate(-90)" textLength="70.01" lengthAdjust="spacingAndGlyphs">2010</text>
<text transform="translate(1022.1 1935.2) rotate(-90)" textLength="67.68" lengthAdjust="spacingAndGlyphs">2011</text>
<text transform="translate(1058.2 1935.2) rotate(-90)" textLength="70.01" lengthAdjust="spacingAndGlyphs">2012</text>
<text transform="translate(1093.3 1935.2) rotate(-90)" textLength="70.01" lengthAdjust="spacingAndGlyphs">2013</text>
<text transform="translate(1125.5 1935.2) rotate(-90)" textLength="70.01" lengthAdjust="spacingAndGlyphs">2014</text>
<text transform="translate(1156.7 1935.2) rotate(-90)" textLength="70.01" lengthAdjust="spacingAndGlyphs">2015</text>
<text transform="translate(1190.5 1935.2) rotate(-90)" textLength="70.01" lengthAdjust="spacingAndGlyphs">2016</text>
<text transform="translate(1222.3 1935.2) rotate(-90)" textLength="70.01" lengthAdjust="spacingAndGlyphs">2017</text>
<text transform="translate(1254.1 1935.2) rotate(-90)" textLength="70.01" lengthAdjust="spacingAndGlyphs">2018</text>
</g>
<g id="title" font-weight="bold" font-size="69.5" fill="#1f1a17" stroke="#1f1a17" stroke-width="2.4" stroke-linejoin="miter">
<text x="73.92" y="70.3" textLength="125.22" lengthAdjust="spacingAndGlyphs">How</text>
<text x="220.99" y="70.3" textLength="164.40" lengthAdjust="spacingAndGlyphs">we’ve</text>
<text x="406.50" y="70.3" textLength="202.38" lengthAdjust="spacingAndGlyphs">helped</text>
<text x="630.09" y="70.3" textLength="98.23" lengthAdjust="spacingAndGlyphs">our</text>
<text x="748.80" y="70.3" textLength="296.07" lengthAdjust="spacingAndGlyphs">neighbors</text>
</g>
<text x="399.52" y="610.4" font-weight="bold" font-size="75" fill="#1f1a17" textLength="280.01" lengthAdjust="spacingAndGlyphs" stroke="#1f1a17" stroke-width="2.2">$198,329</text>
<text x="464.80" y="660.4" font-weight="bold" font-size="42" fill="#1f1a17" textLength="147.94" lengthAdjust="spacingAndGlyphs" stroke="#1f1a17" stroke-width="0.8">for 2018</text>
<g id="logo">
<path d="M381 723.7H464.5M614.5 723.7H697.5" stroke="#34598a" stroke-width="1.1" fill="none"/>
<text x="466.07" y="731.9" font-size="29.5" fill="#3c6390" textLength="141.71" lengthAdjust="spacingAndGlyphs">Peninsula</text>
<g font-weight="bold" font-size="53.0" fill="#34598a" stroke="#34598a" stroke-width="5.2" stroke-linejoin="miter">
<text x="383.65" y="782.4" textLength="35.09" lengthAdjust="spacingAndGlyphs">H</text>
<text x="457.50" y="782.4" textLength="46.80" lengthAdjust="spacingAndGlyphs">M</text>
<text x="507.22" y="782.4" textLength="27.21" lengthAdjust="spacingAndGlyphs">E</text>
<text x="555.36" y="782.4" textLength="26.26" lengthAdjust="spacingAndGlyphs">F</text>
<text x="585.84" y="782.4" textLength="33.11" lengthAdjust="spacingAndGlyphs">U</text>
<text x="621.18" y="782.4" textLength="36.85" lengthAdjust="spacingAndGlyphs">N</text>
<text x="660.08" y="782.4" textLength="32.87" lengthAdjust="spacingAndGlyphs">D</text>
</g>
<text x="419" y="782.4" font-weight="bold" font-size="53.0" fill="#34598a" textLength="39" lengthAdjust="spacingAndGlyphs">O</text>
<ellipse cx="438.4" cy="762.4" rx="19.4" ry="22.4" fill="#34598a"/>
<path d="M424 753.5L424.8 748.6L427.2 747.2L434 749.5L441 751.8L447.5 753.3L452.6 754.6L454.4 756.2L453.6 761L450.5 764L448 766.5L447.2 769.5L448.5 772L446 775.5L441.5 778L435 777.6L430 776L428.8 772L429 767L427.5 762L425.5 758Z" fill="#fdfdf8"/>
<path d="M449.5 765.5L447.6 768.5L448 771" stroke="#34598a" stroke-width="0.7" fill="none"/>
<text x="390.77" y="812.8" style="font-family:'Liberation Serif','DejaVu Serif',serif" font-style="italic" font-size="28.5" fill="#34598a" textLength="312.08" lengthAdjust="spacingAndGlyphs">Change someone’s life</text>
</g>
<g id="para" font-weight="bold" font-size="26.5" fill="#1f1a17" stroke="#1f1a17" stroke-width="0.5">
<text x="350.37" y="887.2" textLength="338.56" lengthAdjust="spacingAndGlyphs">Since 1989, the Peninsula</text>
<text x="349.29" y="915.3" textLength="378.28" lengthAdjust="spacingAndGlyphs">Home Fund has raised more</text>
<text x="350.89" y="943.4" textLength="333.75" lengthAdjust="spacingAndGlyphs">than $3.69 million to help</text>
<text x="350.89" y="971.5" textLength="354.62" lengthAdjust="spacingAndGlyphs">those in need on the North</text>
<text x="350.09" y="999.0" textLength="258.68" lengthAdjust="spacingAndGlyphs">Olympic Peninsula.</text>
</g>
</svg>
</body></html>
